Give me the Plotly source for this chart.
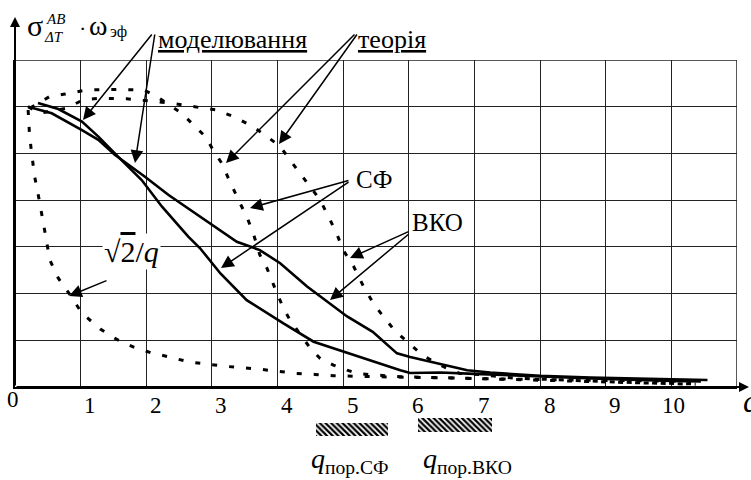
import plotly.graph_objects as go

# ---------------- data ----------------
# modelling (solid) - VKO
q_mod_vko = [0.20, 0.56, 1.02, 1.27, 1.52, 1.98, 2.34, 3.05, 3.38, 3.73, 4.04, 4.45,
             5.06, 5.45, 5.82, 6.02, 6.33, 6.60, 6.89, 7.24, 8.00, 8.77, 9.78, 10.55]
v_mod_vko = [6.00, 5.86, 5.50, 5.29, 4.97, 4.50, 4.11, 3.43, 3.11, 2.93, 2.65, 2.15,
             1.51, 1.18, 0.72, 0.64, 0.54, 0.46, 0.36, 0.31, 0.24, 0.20, 0.17, 0.15]
# modelling (solid) - SF
q_mod_sf = [0.35, 0.66, 1.02, 1.27, 1.57, 1.93, 2.24, 2.64, 2.82, 3.13, 3.53, 4.09,
            4.55, 5.00, 5.46, 5.87, 6.02, 6.48, 7.00, 8.00, 9.00, 10.00, 10.45]
v_mod_sf = [6.08, 5.95, 5.68, 5.36, 4.93, 4.43, 3.86, 3.22, 2.97, 2.43, 1.86, 1.36,
            0.97, 0.76, 0.54, 0.36, 0.30, 0.31, 0.28, 0.22, 0.17, 0.13, 0.12]
# theory (dotted) - SF
q_th_sf = [0.23, 0.53, 0.76, 1.09, 1.55, 1.96, 2.16, 2.54, 2.72, 2.90, 3.02, 3.15,
           3.25, 3.35, 3.43, 3.53, 3.63, 3.73, 3.84, 3.99, 4.09, 4.19, 4.34, 4.50,
           4.65, 4.85, 5.06, 5.21, 5.46, 5.87, 6.50, 7.50, 8.50, 9.50, 10.30]
v_th_sf = [5.97, 6.22, 6.27, 6.36, 6.37, 6.36, 6.22, 5.86, 5.61, 5.36, 5.07, 4.79,
           4.47, 4.15, 3.93, 3.65, 3.29, 2.83, 2.54, 2.01, 1.69, 1.43, 1.15, 0.83,
           0.61, 0.47, 0.36, 0.29, 0.26, 0.22, 0.20, 0.16, 0.12, 0.09, 0.07]
# theory (dotted) - VKO
q_th_vko = [0.20, 0.38, 0.79, 1.04, 1.30, 1.70, 2.06, 2.41, 2.82, 3.07, 3.33, 3.63,
            3.84, 4.04, 4.19, 4.34, 4.50, 4.65, 4.80, 4.90, 5.00, 5.16, 5.31, 5.46,
            5.61, 5.79, 6.00, 6.20, 6.38, 6.58, 6.78, 7.13, 7.60, 8.50, 9.50, 10.37]
v_th_vko = [6.00, 5.86, 5.97, 6.15, 6.18, 6.17, 6.12, 6.07, 5.98, 5.93, 5.79, 5.57,
            5.36, 5.15, 4.86, 4.58, 4.29, 4.00, 3.58, 3.29, 2.93, 2.58, 2.15, 1.79,
            1.51, 1.20, 0.94, 0.69, 0.54, 0.40, 0.29, 0.26, 0.19, 0.14, 0.09, 0.06]
# sqrt(2)/q (dotted)
q_sqrt = [0.20, 0.22, 0.25, 0.30, 0.36, 0.41, 0.46, 0.53, 0.66, 0.84, 1.02, 1.30,
          1.55, 1.80, 2.08, 2.36, 2.64, 2.92, 3.23, 3.73, 4.01, 4.29, 4.57, 4.85,
          5.50, 6.50, 7.50, 8.50, 9.50, 10.30]
v_sqrt = [5.93, 5.43, 5.04, 4.50, 4.07, 3.72, 3.29, 2.72, 2.33, 1.97, 1.58, 1.24,
          1.02, 0.86, 0.73, 0.64, 0.54, 0.49, 0.44, 0.38, 0.33, 0.29, 0.27, 0.24,
          0.22, 0.19, 0.17, 0.15, 0.13, 0.12]

x_tick_vals = [0, 1, 2, 3, 4, 5, 6, 7, 8, 9, 10]
x_tick_labels = ["0", "1", "2", "3", "4", "5", "6", "7", "8", "9", "10"]
zone_sf = [4.58, 5.69]     # q_пор.СФ threshold zone
zone_vko = [6.14, 7.27]    # q_пор.ВКО threshold zone
X_MAX, Y_MAX = 11, 7

# ---------------- layout geometry ----------------
W, H = 751, 480
L, R, T, B = 15, 14, 60, 0
PW, PH = W - L - R, H - T - B
FONT = "'Liberation Serif', 'Times New Roman', Times, 'DejaVu Serif', serif"


def px(x):
    return (x - L) / PW


def py(y):
    return (H - B - y) / PH


fig = go.Figure()

solid = dict(color="black", width=2.6)
dotted = dict(color="black", width=3, dash="5px,12px")

fig.add_trace(go.Scatter(x=q_mod_vko, y=v_mod_vko, mode="lines", line=solid))
fig.add_trace(go.Scatter(x=q_mod_sf, y=v_mod_sf, mode="lines", line=solid))
fig.add_trace(go.Scatter(x=q_th_sf, y=v_th_sf, mode="lines", line=dotted))
fig.add_trace(go.Scatter(x=q_th_vko, y=v_th_vko, mode="lines", line=dotted))
fig.add_trace(go.Scatter(x=q_sqrt, y=v_sqrt, mode="lines", line=dotted))

# hatched threshold zones in a small lower subplot
for z in (zone_sf, zone_vko):
    fig.add_trace(go.Bar(
        x=[z[1] - z[0]], base=[z[0]], y=[0.5], orientation="h", width=1,
        xaxis="x2", yaxis="y2",
        marker=dict(color="white", line=dict(width=0),
                    pattern=dict(shape="\\", fgcolor="black", bgcolor="white",
                                 fgopacity=1, size=4, solidity=0.55,
                                 fillmode="replace"))))

grid_col = "#222222"
fig.update_layout(
    width=W, height=H,
    margin=dict(l=L, r=R, t=T, b=B),
    paper_bgcolor="white", plot_bgcolor="white",
    showlegend=False,
    font=dict(family=FONT, color="black"),
    xaxis=dict(range=[0, X_MAX], tickvals=list(range(0, X_MAX + 1)),
               showticklabels=False, ticks="", showgrid=True,
               gridcolor=grid_col, gridwidth=1.2,
               zeroline=False, showline=True, linecolor="black", linewidth=2,
               anchor="y"),
    yaxis=dict(range=[0, Y_MAX], tickvals=list(range(0, Y_MAX + 1)),
               showticklabels=False, ticks="", showgrid=True,
               gridcolor=grid_col, gridwidth=1.2,
               zeroline=False, showline=True, linecolor="black", linewidth=2,
               domain=[py(387), 1], anchor="x"),
    xaxis2=dict(range=[0, X_MAX], visible=False, anchor="y2", domain=[0, 1]),
    yaxis2=dict(range=[0, 1], visible=False, anchor="x2",
                domain=[py(436), py(418)]),
    bargap=0,
)

# top and right border lines of the grid
fig.add_shape(type="line", xref="x", yref="y", x0=0, x1=X_MAX, y0=Y_MAX,
              y1=Y_MAX, line=dict(color=grid_col, width=1.5))
fig.add_shape(type="line", xref="x", yref="y", x0=X_MAX, x1=X_MAX, y0=0,
              y1=Y_MAX, line=dict(color=grid_col, width=1.5))

ann = []


def text(t, xc, yc, size, xanchor="center", bg=None):
    d = dict(text=t, x=px(xc), y=py(yc), xref="paper", yref="paper",
             showarrow=False, xanchor=xanchor, yanchor="middle",
             font=dict(family=FONT, size=size, color="black"))
    if bg:
        d["bgcolor"] = bg
    ann.append(d)


def arrow(head, tail, width=1.5, size=1.7, head_style=2):
    ann.append(dict(text="", x=px(head[0]), y=py(head[1]), xref="paper",
                    yref="paper", showarrow=True, arrowhead=head_style,
                    arrowsize=size, arrowwidth=width, arrowcolor="black",
                    ax=tail[0] - head[0], ay=tail[1] - head[1]))


# axis arrows
arrow((15, 17), (15, 387), width=2, size=1.0)
arrow((749, 387), (15, 387), width=2, size=1.0)

# tick labels
for v, lab in zip(x_tick_vals, x_tick_labels):
    xc = L + v * PW / X_MAX
    if v == 0:
        text(lab, xc - 2, 399, 23)
    elif v == 10:
        text(lab, xc + 2, 405, 23)
    else:
        text(lab, xc + 9.5, 405, 23)

# axis titles
text("<i>q</i>", 741, 401, 32, xanchor="left")
text("σ", 35, 25, 30)
text("<i>AB</i>", 55, 19, 15)
text("<i>ΔT</i>", 54, 37, 15)
text("·", 82, 28, 22)
text("ω", 98, 25, 28)
text("эф", 118, 32, 16)

# curve labels
text("<u>моделювання</u>", 232, 40, 26)
text("<u>теорія</u>", 392, 40, 26)
text("СФ", 374, 179, 25)
text("ВКО", 438, 223, 25)
text("√<span style='text-decoration:overline'>2</span>/<i>q</i>", 131, 251, 30,
     bg="white")

# threshold labels
text("<i>q</i><sub>пор.СФ</sub>", 350, 460, 28)
text("<i>q</i><sub>пор.ВКО</sub>", 467, 460, 28)

# pointer arrows
arrow((83, 120), (153, 33))
arrow((135, 163), (155, 33))
arrow((226, 163), (356, 33))
arrow((279, 144), (358, 33))
arrow((250, 208), (350, 180))
arrow((221, 268), (350, 181))
arrow((350, 258), (410, 231))
arrow((330, 300), (410, 233))
arrow((69, 296), (108, 280))

fig.update_layout(annotations=ann)
fig.write_html("out.html")
